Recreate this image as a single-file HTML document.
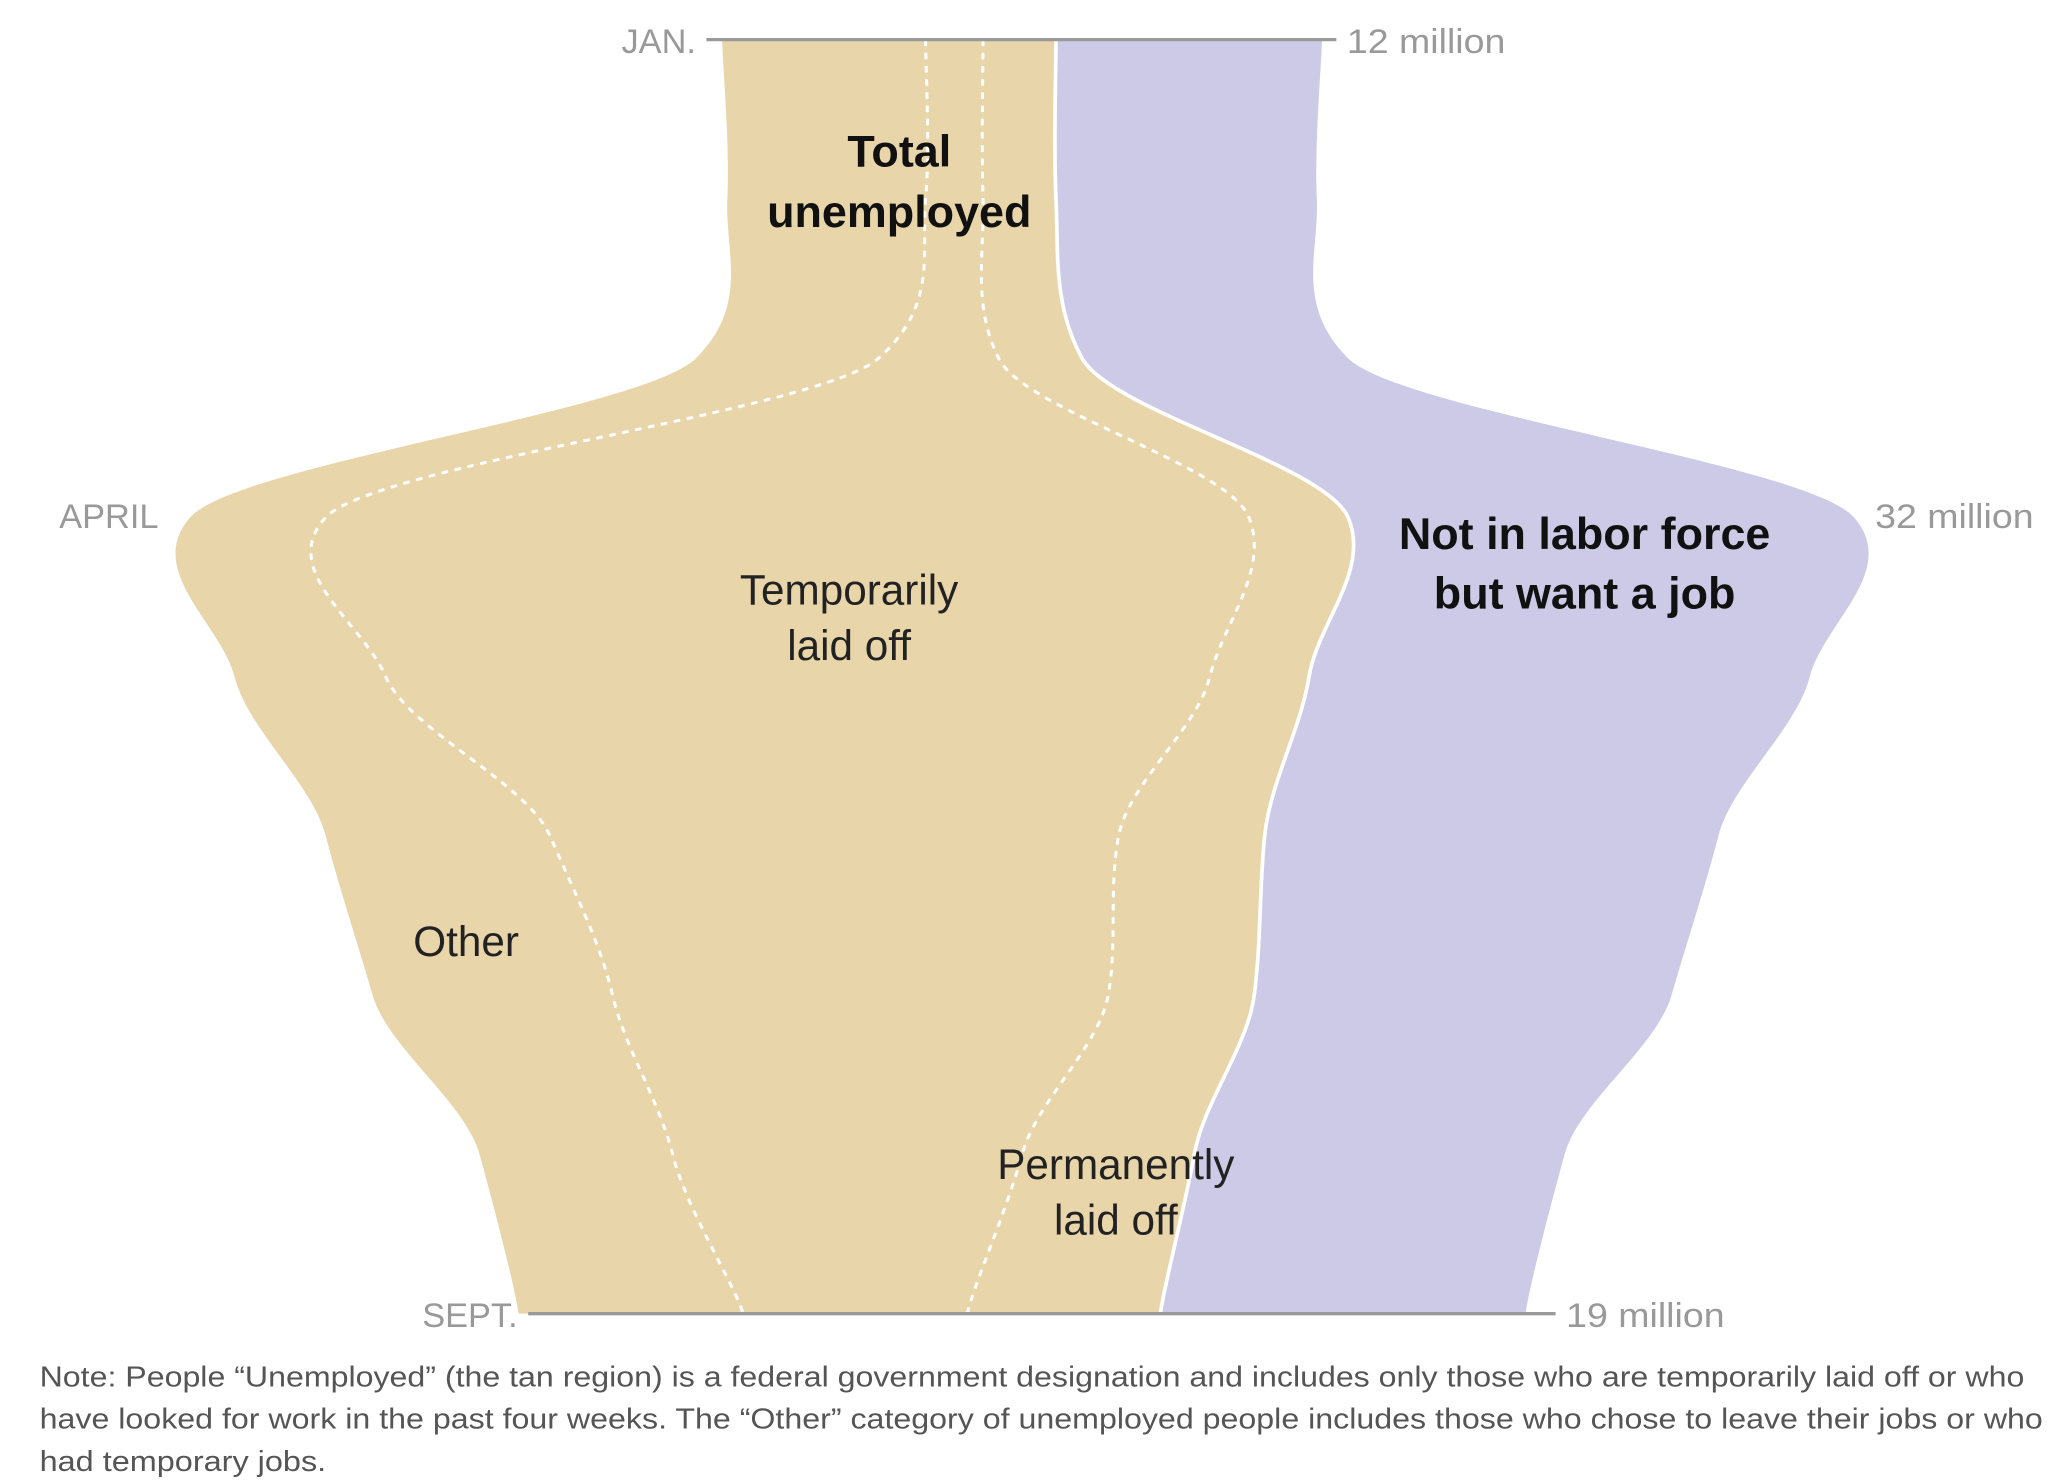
<!DOCTYPE html>
<html><head><meta charset="utf-8"><style>
html,body{margin:0;padding:0;background:#fff;}
svg{display:block;}
text{font-family:"Liberation Sans Narrow","Liberation Sans",sans-serif;}
</style></head><body>
<svg id="chart" width="2060" height="1484" viewBox="0 0 1560 1124" preserveAspectRatio="none" xmlns="http://www.w3.org/2000/svg">
<g id="areas"></g>
<g id="lines"></g>
<g fill="#999" font-size="26">
<line x1="535" y1="30" x2="1012" y2="30" stroke="#9a9a9a" stroke-width="2.5"/>
<line x1="400" y1="995" x2="1178" y2="995" stroke="#9a9a9a" stroke-width="2.5"/>
<text x="527" y="40" text-anchor="end">JAN.</text>
<text x="1020" y="40" textLength="120" lengthAdjust="spacingAndGlyphs">12 million</text>
<text x="120" y="400" text-anchor="end">APRIL</text>
<text x="1420" y="400" textLength="120" lengthAdjust="spacingAndGlyphs">32 million</text>
<text x="392" y="1005" text-anchor="end">SEPT.</text>
<text x="1186" y="1005" textLength="120" lengthAdjust="spacingAndGlyphs">19 million</text>
</g>
<g text-anchor="middle">
<text font-size="34" font-weight="bold" fill="#111"><tspan x="681" y="126">Total</tspan><tspan x="681" y="172">unemployed</tspan></text>
<text font-size="34" font-weight="bold" fill="#111"><tspan x="1200" y="416">Not in labor force</tspan><tspan x="1200" y="461">but want a job</tspan></text>
<text font-size="32" fill="#222"><tspan x="643" y="458">Temporarily</tspan><tspan x="643" y="500">laid off</tspan></text>
<text font-size="32" fill="#222" x="353" y="724">Other</text>
<text font-size="32" fill="#222"><tspan x="845" y="893">Permanently</tspan><tspan x="845" y="935">laid off</tspan></text>
</g>
<g font-size="22" fill="#555">
<text x="30" y="1050" textLength="1503" lengthAdjust="spacingAndGlyphs">Note: People “Unemployed” (the tan region) is a federal government designation and includes only those who are temporarily laid off or who</text>
<text x="30" y="1082" textLength="1517" lengthAdjust="spacingAndGlyphs">have looked for work in the past four weeks. The “Other” category of unemployed people includes those who chose to leave their jobs or who</text>
<text x="30" y="1114" textLength="217" lengthAdjust="spacingAndGlyphs">had temporary jobs.</text>
</g>
</svg>
<script>
const months = ["Jan","Feb","Mar","Apr","May","Jun","Jul","Aug","Sep"];
const other = [3.9,3.8,3.5,2.6,2.9,4.3,4.6,3.7,4.3];
const temporary = [1.1,1.1,2.3,17.7,15.8,10.9,9.5,6.7,4.3];
const permanent = [1.4,1.4,1.6,1.9,1.9,2.8,2.8,3.3,3.7];
const notInLabor = [5.1,5.0,5.1,9.7,9.6,8.7,8.0,7.1,7.0];
const seriesNames = ["other","temporarily-laid-off","permanently-laid-off","not-in-labor-force"];

const NS = "http://www.w3.org/2000/svg";
const pxPerM = 39.5, centerX = 774, y0 = 30, y1 = 995;
const yScale = i => y0 + (y1 - y0) * i / (months.length - 1);
const xScale = v => centerX + v * pxPerM;

const series = [other, temporary, permanent, notInLabor];
const totals = months.map((m,i)=>series.reduce((s,a)=>s+a[i],0));
const bounds = [];
for (let k=0;k<=series.length;k++){
  bounds.push(months.map((m,i)=>{
    let v = -totals[i]/2;
    for (let j=0;j<k;j++) v += series[j][i];
    return xScale(v);
  }));
}
function curvePts(xs, reverse){
  let pts = xs.map((x,i)=>[x,yScale(i)]);
  if (reverse) pts = pts.slice().reverse();
  return pts;
}
function catmull(pts, move){
  let d = (move? "M":"L") + pts[0][0].toFixed(1)+","+pts[0][1].toFixed(1);
  const t = 0.3;
  for (let i=0;i<pts.length-1;i++){
    const p0 = pts[Math.max(0,i-1)], p1 = pts[i], p2 = pts[i+1], p3 = pts[Math.min(pts.length-1,i+2)];
    const c1 = [p1[0]+(p2[0]-p0[0])*t/3, p1[1]+(p2[1]-p0[1])/6];
    const c2 = [p2[0]-(p3[0]-p1[0])*t/3, p2[1]-(p3[1]-p1[1])/6];
    d += "C"+c1[0].toFixed(1)+","+c1[1].toFixed(1)+" "+c2[0].toFixed(1)+","+c2[1].toFixed(1)+" "+p2[0].toFixed(1)+","+p2[1].toFixed(1);
  }
  return d;
}
const areas = document.getElementById("areas");
const lines = document.getElementById("lines");
const fills = ["#e8d5a9","#e8d5a9","#e8d5a9","#cccae6"];
for (let k=0;k<series.length;k++){
  const p = document.createElementNS(NS,"path");
  const d = catmull(curvePts(bounds[k],false),true) + catmull(curvePts(bounds[k+1],true),false) + "Z";
  p.setAttribute("d", d);
  p.setAttribute("fill", fills[k]);
  
  
  areas.appendChild(p);
}
for (let k=1;k<series.length;k++){
  const p = document.createElementNS(NS,"path");
  p.setAttribute("d", catmull(curvePts(bounds[k],false),true));
  p.setAttribute("fill","none");
  p.setAttribute("stroke","#fff");
  if (k<3){ p.setAttribute("stroke-width","2.3"); p.setAttribute("stroke-dasharray","5 5"); }
  else { p.setAttribute("stroke-width","2.8"); }
  
  
  lines.appendChild(p);
}
</script>
</body></html>
